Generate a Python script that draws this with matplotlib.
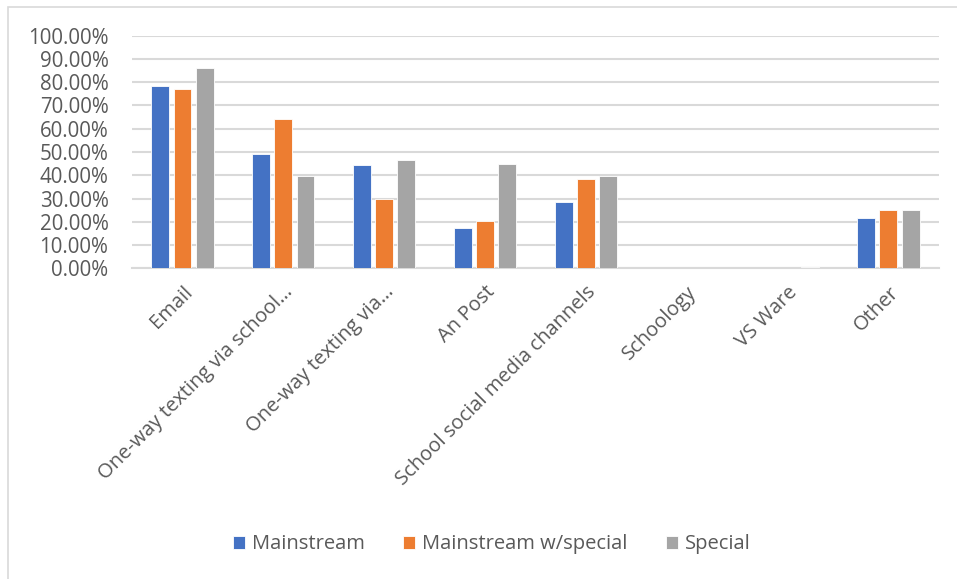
import matplotlib.pyplot as plt
import numpy as np
from matplotlib.patches import Rectangle
from matplotlib.ticker import PercentFormatter

plt.rcParams['font.family'] = ['Open Sans', 'DejaVu Sans']

categories = ['Email', 'One-way texting via school…', 'One-way texting via…', 'An Post',
              'School social media channels', 'Schoology', 'VS Ware', 'Other']
mainstream = [78.2, 49.1, 44.4, 17.2, 28.4, 0.0, 0.0, 21.8]
mainstream_special = [77.1, 64.2, 29.8, 20.2, 38.3, 0.0, 0.0, 24.9]
special = [86.1, 39.5, 46.6, 44.8, 39.5, 0.0, 0.6, 25.1]

series = [('Mainstream', mainstream, '#4472C4'),
          ('Mainstream w/special', mainstream_special, '#ED7D31'),
          ('Special', special, '#A5A5A5')]

text_col = '#595959'
fig = plt.figure(figsize=(9.57, 5.79), dpi=100)
ax = fig.add_axes([0.138, 0.5366, 0.843, 0.4017])

x = np.arange(len(categories))
w = 0.178
step = 0.22
for i, (name, vals, col) in enumerate(series):
    ax.bar(x + (i - 1) * step, vals, width=w, color=col, label=name,
           edgecolor='white', linewidth=0.6, zorder=3)

ax.set_xlim(-0.5, len(categories) - 0.5)
ax.set_ylim(0, 100)
ax.set_yticks(np.arange(0, 101, 10))
ax.yaxis.set_major_formatter(PercentFormatter(decimals=2))
ax.grid(axis='y', color='#d9d9d9', linewidth=1.5, zorder=0)
for s in ['top', 'right', 'left']:
    ax.spines[s].set_visible(False)
ax.spines['bottom'].set_color('#d9d9d9')
ax.spines['bottom'].set_linewidth(1.5)
ax.tick_params(axis='y', length=0, pad=17, labelsize=14.8, labelcolor=text_col)
ax.tick_params(axis='x', length=0, pad=10, labelsize=14.5, labelcolor=text_col)
ax.set_xticks(x)
ax.set_xticklabels(categories, rotation=45, ha='right', rotation_mode='anchor')

fig.legend(loc='center', bbox_to_anchor=(0.514, 0.06), ncol=3, frameon=False,
           fontsize=14.5, labelcolor=text_col, handlelength=0.6, handleheight=0.6,
           handletextpad=0.35, columnspacing=1.9)

# chart border
fig.patches.append(Rectangle((8 / 957, -0.1), 1.2, 1 - 7 / 579 + 0.1,
                             transform=fig.transFigure, fill=False,
                             edgecolor='#d9d9d9', linewidth=1.2))

fig.savefig('out.png', dpi=100)
